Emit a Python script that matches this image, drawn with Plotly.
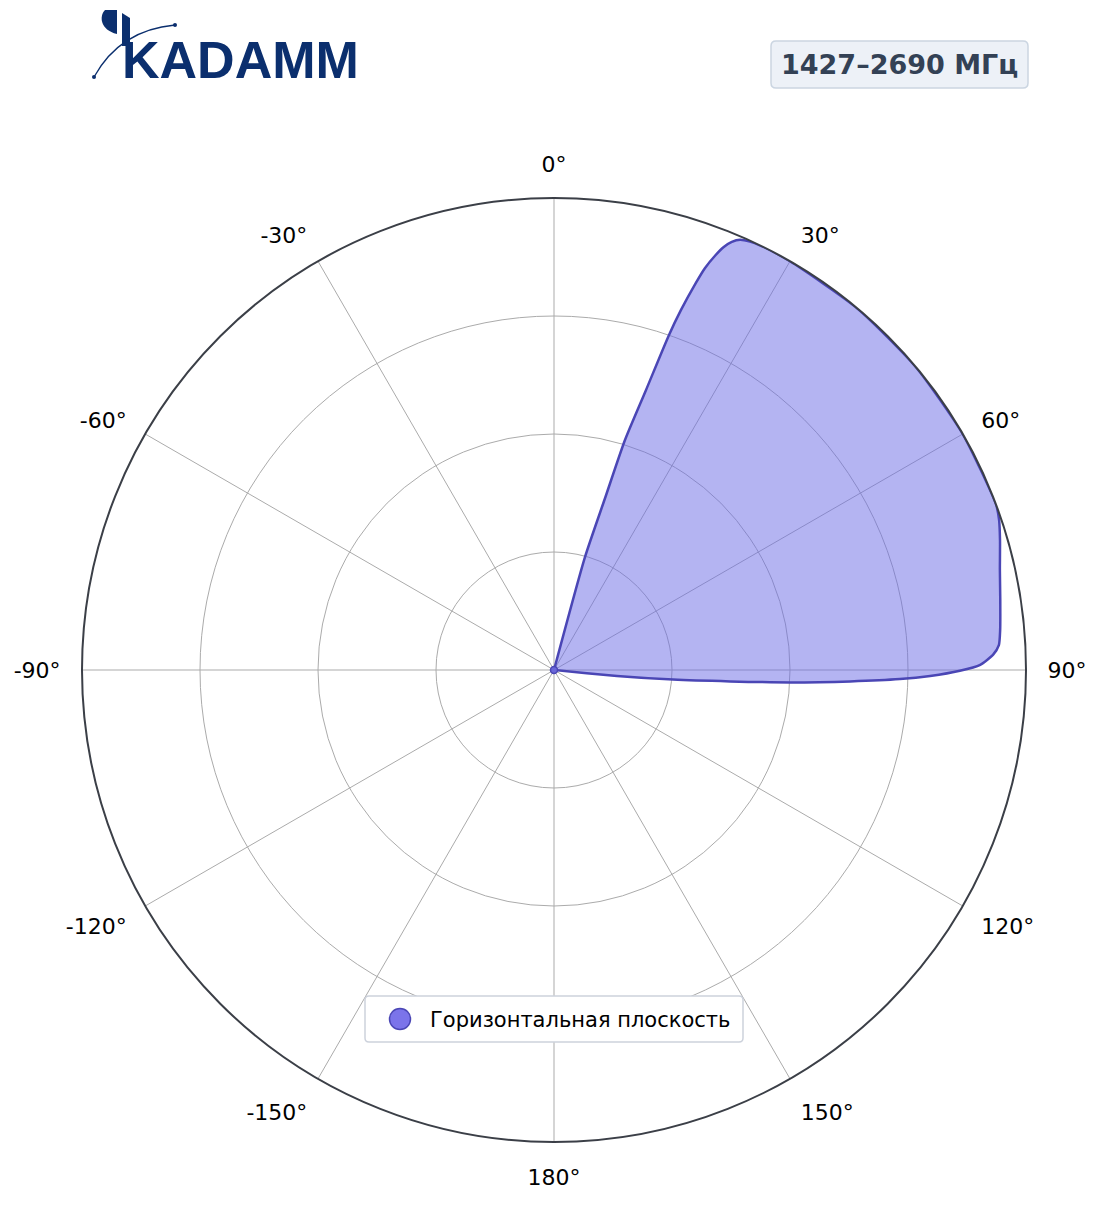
import plotly.graph_objects as go

# ---------------- data ----------------
theta_deg = [0, 14,
             15.34, 16.54, 17.15, 18.19, 18.94, 19.43, 20.12, 20.59, 21.27, 21.84,
             22.56, 23.39, 24.58, 25.86,
             30, 40, 50, 60,
             69.5, 71.4, 73.8, 77.4, 81.1, 84.9, 86.8, 88.0, 89.3, 90.1, 90.9,
             91.5, 92.2, 93.0, 93.7, 94.6, 95.4,
             100, 180, 270, 360]
r_norm = [0, 0,
          0.248, 0.379, 0.510, 0.624, 0.750, 0.809, 0.873, 0.910, 0.943, 0.965,
          0.982, 0.993, 0.998, 1.0,
          1.0, 1.0, 1.0, 1.0,
          1.0, 0.995, 0.984, 0.968, 0.957, 0.949, 0.944, 0.931, 0.903, 0.860, 0.797,
          0.733, 0.628, 0.501, 0.374, 0.253, 0.134,
          0, 0, 0, 0]
assert len(theta_deg) == len(r_norm)

tick_vals = [0, 30, 60, 90, 120, 150, 180, 210, 240, 270, 300, 330]
tick_text = ["0°", "30°", "60°", "90°", "120°", "150°", "180°",
             "-150°", "-120°", "-90°", "-60°", "-30°"]
radial_grid = [0.25, 0.5, 0.75, 1.0]

series_name = "Горизонтальная плоскость"
band_label = "1427–2690 МГц"
logo_text = "KADAMM"

# figure size (page body has an 8px margin)
W, H = 1096, 1203
OFF = 8
def px(x):
    return (x - OFF) / W
def py(y):
    return 1 - (y - OFF) / H

def rounded_rect(x0, y0, x1, y1, rad):
    return (f"M {px(x0 + rad)} {py(y0)} L {px(x1 - rad)} {py(y0)} "
            f"Q {px(x1)} {py(y0)} {px(x1)} {py(y0 + rad)} "
            f"L {px(x1)} {py(y1 - rad)} Q {px(x1)} {py(y1)} {px(x1 - rad)} {py(y1)} "
            f"L {px(x0 + rad)} {py(y1)} Q {px(x0)} {py(y1)} {px(x0)} {py(y1 - rad)} "
            f"L {px(x0)} {py(y0 + rad)} Q {px(x0)} {py(y0)} {px(x0 + rad)} {py(y0)} Z")

LINE = "#4a46b5"
FILL = "rgba(106,106,230,0.5)"
MARK = "#7b74ea"
NAVY = "#0b2f6e"

fig = go.Figure()
fig.add_trace(go.Scatterpolar(
    r=r_norm, theta=theta_deg, mode="lines", fill="toself",
    fillcolor=FILL, line=dict(color=LINE, width=2.5, shape="spline", smoothing=0.6),
    showlegend=False, hoverinfo="skip"))
fig.add_trace(go.Scatterpolar(
    r=[0], theta=[0], mode="markers",
    marker=dict(size=7, color="#6a66d8", line=dict(color=LINE, width=1.5)),
    showlegend=False, hoverinfo="skip"))
fig.add_trace(go.Scatterpolar(
    r=[None], theta=[None], mode="markers", name=series_name,
    marker=dict(size=16, color=MARK, line=dict(color=MARK, width=0)),
    showlegend=True))

fig.update_layout(
    width=W, height=H,
    margin=dict(l=0, r=0, t=0, b=0),
    paper_bgcolor="white",
    font=dict(family="DejaVu Sans", size=22, color="black"),
    polar=dict(
        domain=dict(x=[px(82), px(1026)], y=[py(1142), py(198)]),
        bgcolor="white",
        angularaxis=dict(
            rotation=90, direction="clockwise",
            tickmode="array", tickvals=tick_vals, ticktext=tick_text,
            ticks="outside", ticklen=16, tickcolor="rgba(0,0,0,0)",
            tickfont=dict(family="DejaVu Sans", size=22, color="black"),
            showline=True, linecolor="#3b3f47", linewidth=2,
            showgrid=True, gridcolor="#ababab", gridwidth=1),
        radialaxis=dict(
            range=[0, 1], tickmode="array", tickvals=radial_grid,
            showticklabels=False, ticks="", showline=False,
            showgrid=True, gridcolor="#ababab", gridwidth=1)),
    legend=dict(
        x=px(370), y=py(1019), xanchor="left", yanchor="middle",
        bgcolor="rgba(0,0,0,0)", borderwidth=0,
        font=dict(family="DejaVu Sans", size=21, color="black"),
        itemsizing="trace", itemwidth=50),
    annotations=[
        dict(x=px(899.5), y=py(64.5), xref="paper", yref="paper",
             xanchor="center", yanchor="middle", showarrow=False,
             text="<b>" + band_label + "</b>",
             font=dict(family="DejaVu Sans", size=27, color="#334155")),
        dict(x=px(240), y=py(60), xref="paper", yref="paper",
             xanchor="center", yanchor="middle", showarrow=False,
             text="<b>" + logo_text + "</b>",
             font=dict(family="Liberation Sans", size=52, color=NAVY)),
    ],
    shapes=[
        # legend frame and enlarged legend marker
        dict(type="path", xref="paper", yref="paper", layer="above",
             path=rounded_rect(365, 996, 743, 1042, 4),
             fillcolor="white", line=dict(color="#cdd2dc", width=1.5)),
        dict(type="circle", xref="paper", yref="paper", layer="above",
             x0=px(389.5), x1=px(410.5), y0=py(1029.5), y1=py(1008.5),
             fillcolor=MARK, line=dict(color=LINE, width=1.5)),
        # title frame
        dict(type="path", xref="paper", yref="paper", layer="above",
             path=rounded_rect(771, 41, 1028, 88, 5),
             fillcolor="#edf1f7", line=dict(color="#cbd5e1", width=1.5)),
        # logo decorations
        dict(type="path", xref="paper", yref="paper",
             path=(f"M {px(122)} {py(13)} L {px(130)} {py(18)} "
                   f"L {px(130)} {py(46)} L {px(122)} {py(46)} Z"),
             fillcolor=NAVY, line=dict(width=0)),
        dict(type="path", xref="paper", yref="paper",
             path=f"M {px(94)} {py(77)} Q {px(120)} {py(30)} {px(175)} {py(25)}",
             line=dict(color=NAVY, width=1.3)),
        dict(type="circle", xref="paper", yref="paper",
             x0=px(92), x1=px(96), y0=py(79), y1=py(75),
             fillcolor=NAVY, line=dict(width=0)),
        dict(type="circle", xref="paper", yref="paper",
             x0=px(173), x1=px(177), y0=py(27), y1=py(23),
             fillcolor=NAVY, line=dict(width=0)),
        dict(type="path", xref="paper", yref="paper",
             path=(f"M {px(117)} {py(10)} L {px(105)} {py(10)} "
                   f"C {px(99)} {py(16)} {px(100)} {py(30)} {px(117)} {py(34)} Z"),
             fillcolor=NAVY, line=dict(width=0)),
    ],
)

fig.write_html("out.html")
